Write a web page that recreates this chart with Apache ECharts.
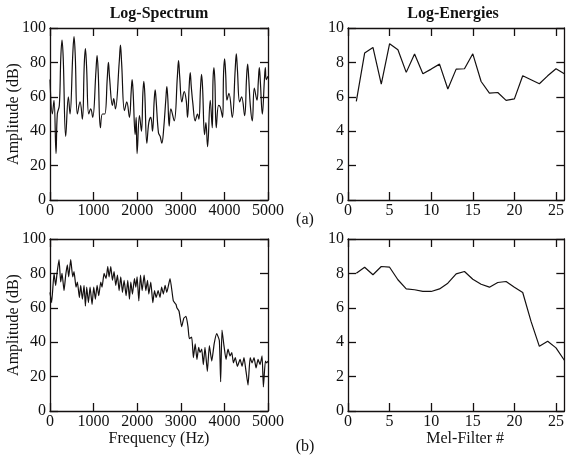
<!DOCTYPE html>
<html>
<head>
<meta charset="utf-8">
<script src="https://cdn.jsdelivr.net/npm/echarts@6/dist/echarts.min.js"></script>
<style>html,body{margin:0;padding:0;background:#fff}#c{width:567px;height:457px}</style>
</head>
<body>
<div id="c"></div>
<script>
// ---- data ----
const specFreqA = [0,54,92,138,168,214,248,276,304,360,421,459,523,551,579,628,689,743,786,812,838,888,934,980,1054,1080,1106,1156,1202,1256,1314,1340,1366,1432,1462,1501,1590,1616,1642,1708,1761,1822,1862,1884,1906,1953,1976,1998,2052,2098,2130,2152,2174,2221,2266,2312,2351,2390,2412,2434,2488,2527,2565,2603,2658,2680,2702,2734,2772,2848,2922,2948,2974,3024,3078,3124,3155,3192,3216,3240,3277,3331,3384,3415,3452,3476,3500,3545,3576,3614,3675,3721,3738,3760,3782,3813,3867,3905,3959,3980,4005,4030,4058,4104,4181,4248,4273,4298,4349,4395,4464,4508,4533,4558,4594,4640,4686,4747,4778,4801,4824,4870,4918,4939,4960,5000];
const specDbA = [70,50,58,27,50,55,83,93,82,37,60,50,85,95,84,50,57,47,79,88,78,50,53,48,75,84,74,42,50,50,71,80,71,55,59,53,81,90,80,52,57,48,63,70,63,38,48,27,49,40,62,69,62,33,45,48,40,58,64,58,39,37,33,40,59,66,59,43,53,46,72,81,72,57,63,58,48,66,74,66,56,46,50,47,65,73,65,38,45,31,58,42,69,77,69,42,55,54,48,73,82,73,58,62,48,76,85,76,57,60,49,71,79,71,55,46,65,58,69,77,69,50,70,77,70,72];

const specFreqB = [0,38,92,130,161,207,245,276,322,360,398,429,475,521,551,597,628,674,704,743,781,812,842,881,919,965,1003,1041,1080,1118,1164,1194,1240,1286,1325,1355,1394,1432,1470,1508,1547,1585,1623,1662,1700,1746,1784,1822,1853,1891,1937,1968,1998,2037,2075,2113,2159,2198,2236,2266,2312,2358,2397,2435,2480,2523,2560,2600,2640,2680,2753,2829,2890,2910,2960,3020,3070,3120,3165,3196,3250,3289,3330,3370,3410,3440,3480,3517,3555,3609,3655,3710,3765,3823,3884,3914,3945,3990,4037,4083,4130,4170,4206,4250,4297,4360,4405,4450,4496,4542,4590,4635,4680,4726,4772,4818,4864,4894,4940,4970,5000];
const specDbB = [69,63,80,73,80,88,75,80,70,79,85,78,88,78,81,72,75,66,73,65,73,61,72,63,72,62,72,65,73,67,75,72,80,77,84,78,84,76,81,73,79,70,78,69,76,67,76,65,75,68,77,72,78,64,79,70,79,70,76,68,75,63,70,66,70,66,72,68,73,69,77,64,62,60,58,49,54,55,49,42,43,31,39,30,37,34,36,27,37,23,38,29,39,45,41,17,47,38,30,36,32,34,28,31,26,30,26,31,23,15,31,28,31,25,30,27,32,14,29,28,29];

const melIndex = [1,2,3,4,5,6,7,8,9,10,11,12,13,14,15,16,17,18,19,20,21,22,23,24,25,26];
const logEnergyA = [5.73,8.54,8.87,6.74,9.09,8.74,7.42,8.49,7.34,7.61,7.90,6.45,7.61,7.63,8.50,6.89,6.21,6.25,5.79,5.88,7.22,6.99,6.76,7.22,7.63,7.34];
const logEnergyB = [8.01,8.36,7.92,8.40,8.36,7.63,7.10,7.05,6.95,6.95,7.10,7.43,7.97,8.11,7.66,7.37,7.20,7.47,7.53,7.20,6.89,5.21,3.76,4.05,3.67,2.95];

const freqTicks = [0,1000,2000,3000,4000,5000];
const dbTicks = [0,20,40,60,80,100];
const melTicks = [0,5,10,15,20,25];
const energyTicks = [0,2,4,6,8,10];

const titles = ['Log-Spectrum','Log-Energies'];
const panelTags = ['(a)','(b)'];
const yName = 'Amplitude (dB)';
const xNameLeft = 'Frequency (Hz)';
const xNameRight = 'Mel-Filter #';

// ---- chart ----
const FONT = 'Liberation Serif';
const INK = '#141010';
const zip = (a,b) => a.map((v,i)=>[v,b[i]]);

const grids = [
  {left:50, top:28, width:218, height:172},
  {left:348, top:28, width:218, height:172},
  {left:50, top:239, width:218, height:172},
  {left:348, top:239, width:218, height:172}
];
const panelX = [
  {min:0,max:5000,ticks:freqTicks,name:''},
  {min:0,max:26,ticks:melTicks,name:''},
  {min:0,max:5000,ticks:freqTicks,name:xNameLeft},
  {min:0,max:26,ticks:melTicks,name:xNameRight}
];
const panelY = [
  {min:0,max:100,ticks:dbTicks,name:yName},
  {min:0,max:10,ticks:energyTicks,name:''},
  {min:0,max:100,ticks:dbTicks,name:yName},
  {min:0,max:10,ticks:energyTicks,name:''}
];

const lineStyle = {color:INK, width:1.3};
const tickStyle = {show:true, inside:true, length:8, lineStyle:{color:INK,width:1.3}};
const labelStyle = {fontFamily:FONT, fontSize:16, color:'#111'};
const plain = v => String(v);

const xAxis = [], yAxis = [];
[0,1].forEach(mirror => {
  panelX.forEach((p,i) => {
    xAxis.push({
      type:'value', gridIndex:i, min:p.min, max:p.max,
      position: mirror ? 'top' : 'bottom',
      axisLine:{show:true, onZero:false, lineStyle},
      axisTick:Object.assign({}, tickStyle, {customValues:p.ticks}),
      axisLabel: mirror ? {show:false} : Object.assign({margin:3, customValues:p.ticks, formatter:plain}, labelStyle),
      splitLine:{show:false},
      name: mirror ? '' : p.name,
      nameLocation:'middle', nameGap:20, nameMoveOverlap:false,
      nameTextStyle: Object.assign({}, labelStyle, i===3 ? {padding:[0,0,0,18]} : {})
    });
  });
  panelY.forEach((p,i) => {
    yAxis.push({
      type:'value', gridIndex:i, min:p.min, max:p.max,
      position: mirror ? 'right' : 'left',
      axisLine:{show:true, onZero:false, lineStyle},
      axisTick:Object.assign({}, tickStyle, {customValues:p.ticks}),
      axisLabel: mirror ? {show:false} : Object.assign({margin:4, customValues:p.ticks, formatter:plain}, labelStyle),
      splitLine:{show:false},
      name: mirror ? '' : p.name,
      nameLocation:'middle', nameGap:28, nameRotate:90, nameMoveOverlap:false,
      nameTextStyle: labelStyle
    });
  });
});

const mk = (data, i, smooth) => ({
  type:'line', xAxisIndex:i, yAxisIndex:i, data, symbol:'none', smooth,
  lineStyle:{color:INK, width:1.2}, animation:false
});

const option = {
  backgroundColor:'#ffffff',
  animation:false,
  grid: grids,
  xAxis, yAxis,
  series: [
    mk(zip(specFreqA, specDbA), 0, 0.4),
    mk(zip(melIndex, logEnergyA), 1, false),
    mk(zip(specFreqB, specDbB), 2, 0.15),
    mk(zip(melIndex, logEnergyB), 3, false)
  ],
  graphic: [
    {type:'text', x:159, y:14, style:{text:titles[0], font:'bold 16px "Liberation Serif"', fill:'#111', align:'center', verticalAlign:'middle'}},
    {type:'text', x:453, y:14, style:{text:titles[1], font:'bold 16px "Liberation Serif"', fill:'#111', align:'center', verticalAlign:'middle'}},
    {type:'text', x:305, y:220, style:{text:panelTags[0], font:'16px "Liberation Serif"', fill:'#111', align:'center', verticalAlign:'middle'}},
    {type:'text', x:305, y:447, style:{text:panelTags[1], font:'16px "Liberation Serif"', fill:'#111', align:'center', verticalAlign:'middle'}}
  ]
};
const chart = echarts.init(document.getElementById('c'), null, {renderer:'canvas'});
chart.setOption(option);
</script>
</body>
</html>
